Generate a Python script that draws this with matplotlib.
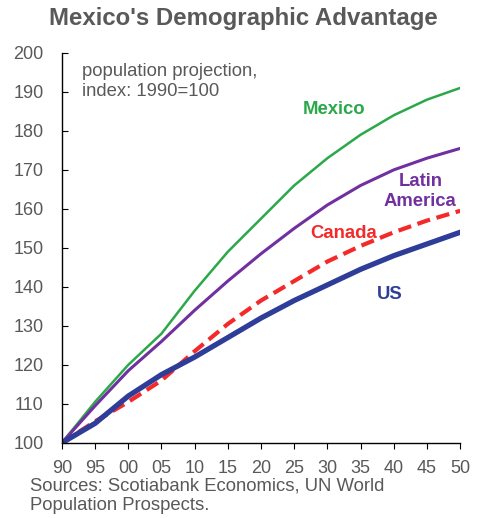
import matplotlib
matplotlib.use("Agg")
import matplotlib.pyplot as plt

plt.rcParams['font.family'] = ['Liberation Sans', 'DejaVu Sans']

years = [1990, 1995, 2000, 2005, 2010, 2015, 2020, 2025, 2030, 2035, 2040, 2045, 2050]
mexico = [100, 110.5, 120, 128, 139, 149, 157.5, 166, 173, 179, 184, 188, 191]
latin_america = [100, 109.5, 118.5, 126, 134, 141.5, 148.5, 155, 161, 166, 170, 173, 175.5]
canada = [100, 105.5, 110.5, 116, 123.5, 130.5, 136.5, 141.5, 146.5, 150.5, 154, 157, 159.5]
us = [100, 105, 112, 117.5, 122, 127, 132, 136.5, 140.5, 144.5, 148, 151, 154]
tick_labels = ['90', '95', '00', '05', '10', '15', '20', '25', '30', '35', '40', '45', '50']

gray = '#595959'
fig = plt.figure(figsize=(4.87, 5.18), dpi=100)
ax = fig.add_axes([0.127, 0.145, 0.818, 0.753])

ax.plot(years, mexico, color='#2BA84A', lw=1.8)
ax.plot(years, latin_america, color='#7030A0', lw=2.2)
ax.plot(years, canada, color='#F42A2A', lw=3.0, dashes=(3.2, 1.6))
ax.plot(years, us, color='#2E3D98', lw=3.8)

ax.set_xlim(1990, 2050)
ax.set_ylim(100, 200)
ax.set_xticks(years)
ax.set_xticklabels(tick_labels)
ax.set_yticks(range(100, 201, 10))
ax.tick_params(axis='x', direction='out', length=4, colors='black', labelcolor=gray, labelsize=13, pad=8)
ax.tick_params(axis='y', direction='in', length=4, colors='black', labelcolor=gray, labelsize=13, pad=13)
for s in ['top', 'right']:
    ax.spines[s].set_visible(False)
for s in ['left', 'bottom']:
    ax.spines[s].set_linewidth(1.0)

ax.text(1993.1, 197.4, 'population projection,\nindex: 1990=100', fontsize=13.3, color=gray,
        va='top', ha='left', linespacing=1.25)
ax.text(2031.0, 185.4, 'Mexico', color='#2BA84A', fontsize=13.3, fontweight='bold', ha='center', va='center')
ax.text(2044.0, 164.5, 'Latin\nAmerica', color='#7030A0', fontsize=13.3, fontweight='bold', ha='center',
        va='center', linespacing=1.25)
ax.text(2032.5, 153.6, 'Canada', color='#F42A2A', fontsize=13.3, fontweight='bold', ha='center', va='center')
ax.text(2039.4, 138.0, 'US', color='#2E3D98', fontsize=13.3, fontweight='bold', ha='center', va='center')

fig.text(0.5, 0.965, "Mexico's Demographic Advantage", fontsize=17.3, fontweight='bold',
         color=gray, ha='center', va='center')
fig.text(0.062, 0.079, 'Sources: Scotiabank Economics, UN World\nPopulation Prospects.',
         fontsize=13.3, color=gray, ha='left', va='top', linespacing=1.25)

fig.savefig('out.png', dpi=100)
